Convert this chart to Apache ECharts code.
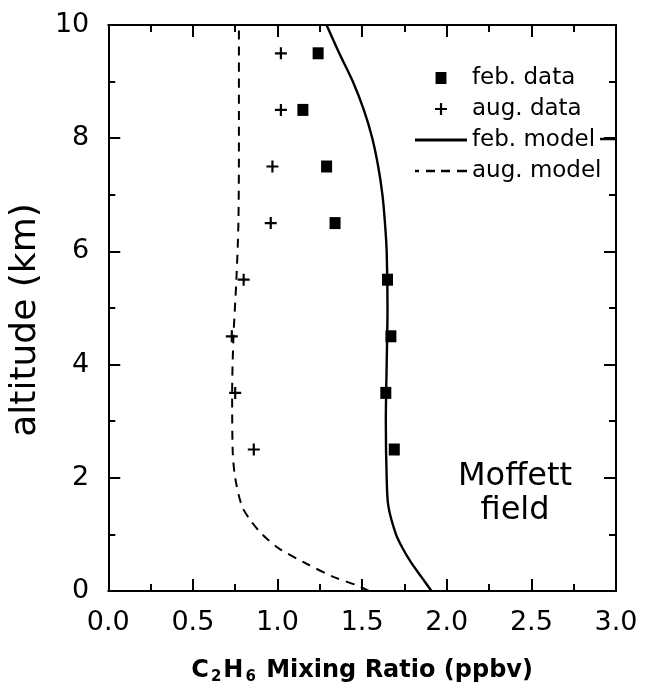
<!DOCTYPE html>
<html>
<head>
<meta charset="utf-8">
<script src="https://cdn.jsdelivr.net/npm/echarts@6/dist/echarts.min.js"></script>
<style>html,body{margin:0;padding:0;background:#fff;}#chart{width:645px;height:690px;}</style>
</head>
<body>
<div id="chart"></div>
<script>
// ---- data ----
const altitudes = [9.5, 8.5, 7.5, 6.5, 5.5, 4.5, 3.5, 2.5];
const febData = [1.24, 1.15, 1.29, 1.34, 1.65, 1.67, 1.64, 1.69];
const augData = [1.02, 1.02, 0.97, 0.96, 0.80, 0.73, 0.75, 0.86];

const febModelAlt = [0, 0.25, 0.5, 0.75, 1, 1.5, 2, 3, 4, 5, 6, 6.5, 7, 7.5, 8, 8.5, 9, 9.5, 10];
const febModelX   = [1.91, 1.85, 1.79, 1.74, 1.70, 1.655, 1.645, 1.64, 1.645, 1.65, 1.645, 1.635, 1.62, 1.595, 1.56, 1.51, 1.445, 1.365, 1.29];

const augModelAlt = [0, 0.1, 0.25, 0.5, 0.75, 1, 1.25, 1.5, 2, 2.5, 3.5, 4.5, 5.5, 6.5, 8, 10];
const augModelX   = [1.54, 1.47, 1.33, 1.16, 1.01, 0.91, 0.84, 0.79, 0.75, 0.735, 0.732, 0.74, 0.757, 0.769, 0.772, 0.772];

const xTicks = { min: 0, max: 3, interval: 0.5 };
const yTicks = { min: 0, max: 10, interval: 2 };
const legendNames = ['feb. data', 'aug. data', 'feb. model', 'aug. model'];

const pairs = (xs, ys) => xs.map((x, i) => [x, ys[i]]);

const FONT = 'DejaVu Sans';
function axisCommon() {
  return {
    axisLine: { show: true, onZero: false, lineStyle: { color: '#000', width: 2 } },
    axisTick: { show: true, inside: true, length: 12, lineStyle: { color: '#000', width: 2 } },
    minorTick: { show: true, splitNumber: 2, length: 7, lineStyle: { color: '#000', width: 2 } },
    splitLine: { show: false },
    minorSplitLine: { show: false }
  };
}

const chart = echarts.init(document.getElementById('chart'), null, { renderer: 'canvas' });
chart.setOption({
  backgroundColor: '#fff',
  animation: false,
  grid: { left: 107, right: 29, top: 25, bottom: 98 },
  legend: {
    left: 415, top: 66, orient: 'vertical', padding: 0,
    itemWidth: 52, itemHeight: 12, itemGap: 7,
    symbolKeepAspect: true,
    textStyle: { fontFamily: FONT, fontSize: 23, color: '#000', lineHeight: 24, padding: [0, 0, 0, 0] },
    data: [
      { name: legendNames[0], icon: 'path://M0,0H10V11H0Z' },
      { name: legendNames[1], icon: 'path://M4.5,0H6.5V11H4.5ZM0,4.5H11V6.5H0Z' },
      { name: legendNames[2], icon: 'path://M0,0H52V3H0Z' },
      { name: legendNames[3], icon: 'path://M0,0H4V2.4H0ZM11,0H20V2.4H11ZM26,0H35V2.4H26ZM42,0H52V2.4H42Z' }
    ]
  },
  xAxis: [
    Object.assign({
      type: 'value', position: 'bottom', min: xTicks.min, max: xTicks.max, interval: xTicks.interval,
      axisLabel: { margin: 18, fontFamily: FONT, fontSize: 27, color: '#000', formatter: v => v.toFixed(1) },
      name: '{m|C}{s|2}{m|H}{s|6}{m| Mixing Ratio (ppbv)}',
      nameLocation: 'middle', nameGap: 68,
      nameTextStyle: {
        rich: {
          m: { fontFamily: FONT, fontWeight: 'bold', fontSize: 24, color: '#000', lineHeight: 26, verticalAlign: 'top' },
          s: { fontFamily: FONT, fontWeight: 'bold', fontSize: 15, color: '#000', lineHeight: 16, padding: [16, 2, 0, 2], verticalAlign: 'bottom' }
        }
      }
    }, axisCommon()),
    Object.assign({
      type: 'value', position: 'top', min: xTicks.min, max: xTicks.max, interval: xTicks.interval,
      axisLabel: { show: false }
    }, axisCommon())
  ],
  yAxis: [
    Object.assign({
      type: 'value', position: 'left', min: yTicks.min, max: yTicks.max, interval: yTicks.interval,
      axisLabel: { margin: 19, fontFamily: FONT, fontSize: 27, color: '#000' },
      name: 'altitude (km)', nameLocation: 'middle', nameGap: 52, nameRotate: 90,
      nameTextStyle: { fontFamily: FONT, fontSize: 36, color: '#000', padding: [0, 24, 0, 0] }
    }, axisCommon()),
    Object.assign({
      type: 'value', position: 'right', min: yTicks.min, max: yTicks.max, interval: yTicks.interval,
      axisLabel: { show: false }
    }, axisCommon())
  ],
  series: [
    {
      name: legendNames[0], type: 'scatter', symbol: 'rect', symbolSize: [11, 12],
      itemStyle: { color: '#000', opacity: 1 }, data: pairs(febData, altitudes), z: 5
    },
    {
      name: legendNames[1], type: 'scatter',
      symbol: 'path://M4.5,0H6.5V11H4.5ZM0,4.5H11V6.5H0Z', symbolSize: 12,
      itemStyle: { color: '#000', opacity: 1 }, data: pairs(augData, altitudes), z: 5
    },
    {
      name: legendNames[2], type: 'line', symbol: 'none', smooth: 0.3,
      lineStyle: { color: '#000', width: 2.4 }, itemStyle: { color: '#000' },
      data: pairs(febModelX, febModelAlt)
    },
    {
      name: legendNames[3], type: 'line', symbol: 'none', smooth: 0.3,
      lineStyle: { color: '#000', width: 2, type: [9, 7] }, itemStyle: { color: '#000' },
      data: pairs(augModelX, augModelAlt)
    }
  ],
  graphic: [
    { type: 'line', shape: { x1: 600, y1: 139, x2: 616, y2: 139 }, style: { stroke: '#000', lineWidth: 2.5 } },
    { type: 'text', x: 515, y: 477, style: { text: 'Moffett', fontFamily: FONT, fontSize: 32, fill: '#000', align: 'center', verticalAlign: 'middle' } },
    { type: 'text', x: 515, y: 511, style: { text: 'field', fontFamily: FONT, fontSize: 32, fill: '#000', align: 'center', verticalAlign: 'middle' } }
  ]
});
</script>
</body>
</html>
